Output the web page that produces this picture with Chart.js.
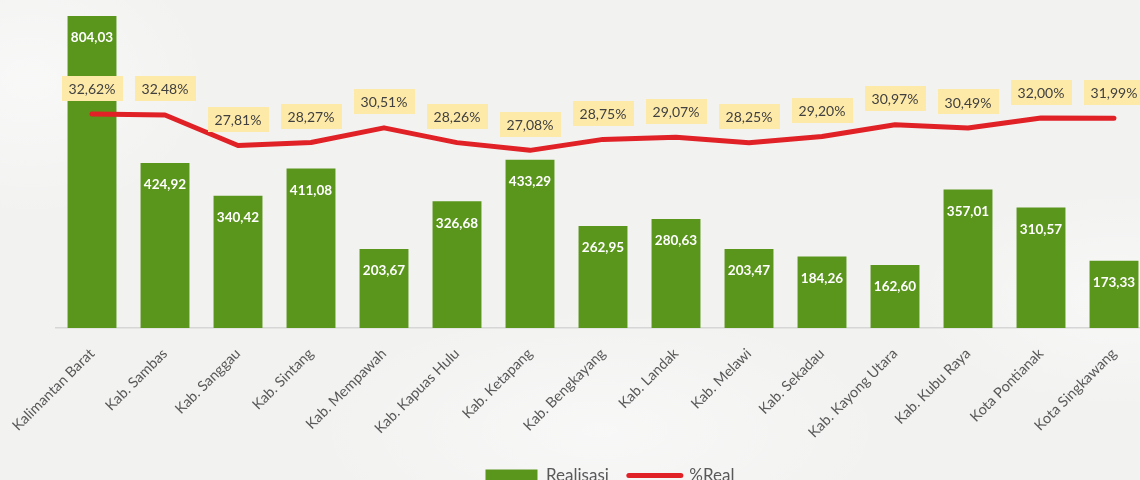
<!DOCTYPE html>
<html>
<head>
<meta charset="utf-8">
<script src="https://cdn.jsdelivr.net/npm/chart.js@4.4.0/dist/chart.umd.min.js"></script>
<style>
  html, body { margin: 0; padding: 0; overflow: hidden; }
  body {
    width: 1140px; height: 480px;
    background:
      radial-gradient(ellipse 260px 200px at 30px 80px, rgba(255,255,255,0.5), rgba(255,255,255,0) 70%),
      radial-gradient(ellipse 300px 160px at 1120px 300px, rgba(255,255,255,0.45), rgba(255,255,255,0) 70%),
      radial-gradient(ellipse 420px 180px at 600px 430px, rgba(255,255,255,0.45), rgba(255,255,255,0) 70%),
      #f2f2f1;
  }
  #wrap { position: relative; width: 1151px; height: 494px; }
</style>
</head>
<body>
<div id="wrap"><canvas id="chart"></canvas></div>
<script>
// Realisasi per wilayah (bars) and persentase realisasi (line)
const categories = [
  'Kalimantan Barat', 'Kab. Sambas', 'Kab. Sanggau', 'Kab. Sintang', 'Kab. Mempawah',
  'Kab. Kapuas Hulu', 'Kab. Ketapang', 'Kab. Bengkayang', 'Kab. Landak', 'Kab. Melawi',
  'Kab. Sekadau', 'Kab. Kayong Utara', 'Kab. Kubu Raya', 'Kota Pontianak', 'Kota Singkawang'
];
const realisasi = [804.03, 424.92, 340.42, 411.08, 203.67, 326.68, 433.29, 262.95, 280.63, 203.47, 184.26, 162.60, 357.01, 310.57, 173.33];
const persenReal = [32.62, 32.48, 27.81, 28.27, 30.51, 28.26, 27.08, 28.75, 29.07, 28.25, 29.20, 30.97, 30.49, 32.00, 31.99];
const seriesNames = ['Realisasi', '%Real'];

const BAR_COLOR = '#5a961c';
const LINE_COLOR = '#e02126';
const BOX_COLOR = '#fde9a8';

const fmt = v => v.toFixed(2).replace('.', ',');

// Draws the value labels: white text inside bars, boxed percentages above the line
const valueLabels = {
  id: 'valueLabels',
  afterLayout(chart) {
    // nudge the legend row a little to the right of the canvas centre
    if (chart.legend) {
      chart.legend.left += 7;
      chart.legend.right += 7;
    }
  },
  afterDatasetsDraw(chart) {
    const ctx = chart.ctx;
    ctx.save();
    ctx.textAlign = 'center';
    ctx.textBaseline = 'middle';

    ctx.font = 'bold 13.5px Lato';
    ctx.fillStyle = '#ffffff';
    chart.getDatasetMeta(0).data.forEach((bar, i) => {
      ctx.fillText(fmt(realisasi[i]), bar.x, bar.y + 22);
    });

    ctx.font = '14px Lato';
    chart.getDatasetMeta(1).data.forEach((pt, i) => {
      const txt = fmt(persenReal[i]) + '%';
      const w = Math.round(ctx.measureText(txt).width + 14);
      const h = 25;
      const cy = pt.y - 26;
      ctx.fillStyle = BOX_COLOR;
      ctx.fillRect(Math.round(pt.x - w / 2), Math.round(cy - h / 2), w, h);
      ctx.fillStyle = '#404040';
      ctx.fillText(txt, pt.x, cy + 1);
    });
    ctx.restore();
  }
};

new Chart(document.getElementById('chart'), {
  data: {
    labels: categories,
    datasets: [
      {
        type: 'bar',
        label: seriesNames[0],
        data: realisasi,
        backgroundColor: BAR_COLOR,
        yAxisID: 'y',
        order: 1,
        barPercentage: 0.67,
        categoryPercentage: 1
      },
      {
        type: 'line',
        label: seriesNames[1],
        data: persenReal,
        borderColor: LINE_COLOR,
        borderWidth: 5,
        borderCapStyle: 'round',
        borderJoinStyle: 'round',
        pointRadius: 0,
        tension: 0,
        yAxisID: 'y1',
        order: 0
      }
    ]
  },
  options: {
    responsive: true,
    maintainAspectRatio: false,
    animation: false,
    layout: { padding: { left: 55.5, right: 0.5, top: 0, bottom: 0 } },
    plugins: {
      tooltip: { enabled: false },
      legend: {
        position: 'bottom',
        labels: {
          usePointStyle: true,
          pointStyleWidth: 52,
          boxHeight: 12,
          padding: 20,
          color: '#595959',
          font: { family: 'Lato', size: 17 },
          generateLabels(chart) {
            return chart.data.datasets.map((ds, i) => ({
              text: ds.label,
              datasetIndex: i,
              fillStyle: i === 0 ? BAR_COLOR : LINE_COLOR,
              strokeStyle: LINE_COLOR,
              lineWidth: i === 0 ? 0 : 5,
              lineCap: 'round',
              pointStyle: i === 0 ? 'rect' : 'line',
              fontColor: '#595959',
              hidden: !chart.isDatasetVisible(i)
            }));
          }
        }
      }
    },
    scales: {
      x: {
        offset: true,
        grid: { display: false },
        border: { display: true, color: '#d6d6d6', width: 1.5 },
        ticks: {
          color: '#595959',
          font: { family: 'Lato', size: 14.5 },
          minRotation: 45,
          maxRotation: 45,
          autoSkip: false,
          padding: 9
        },
        afterFit(scale) {
          scale.height = 119;
          scale.paddingLeft = 0;
          scale.paddingRight = 0;
        }
      },
      y: { display: false, min: 0, max: 845 },
      y1: { display: false, min: 0, max: 50, position: 'right' }
    }
  },
  plugins: [valueLabels]
});
</script>
</body>
</html>
